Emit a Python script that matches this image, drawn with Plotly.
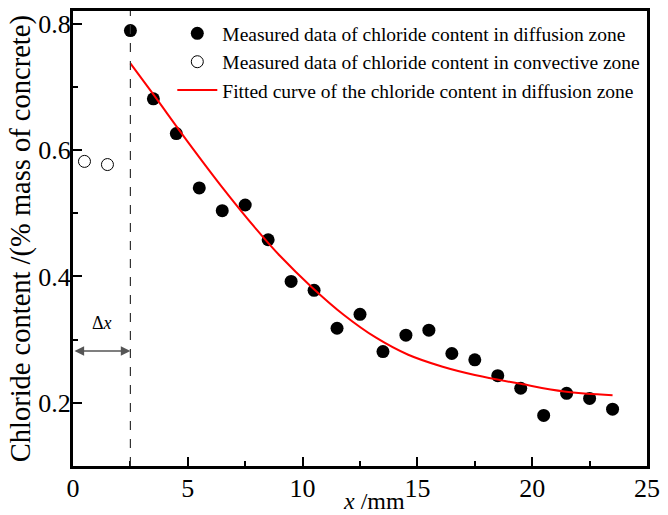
import plotly.graph_objects as go

# Measured chloride content in the diffusion zone
x_diff = [2.5, 3.5, 4.5, 5.5, 6.5, 7.5, 8.5, 9.5, 10.5, 11.5, 12.5, 13.5,
          14.5, 15.5, 16.5, 17.5, 18.5, 19.5, 20.5, 21.5, 22.5, 23.5]
c_diff = [0.789, 0.681, 0.626, 0.540, 0.504, 0.513, 0.458, 0.392, 0.378, 0.318,
          0.340, 0.281, 0.307, 0.315, 0.278, 0.268, 0.243, 0.223, 0.180, 0.215,
          0.207, 0.190]

# Measured chloride content in the convective zone
x_conv = [0.5, 1.5]
c_conv = [0.582, 0.577]

# Fitted curve in the diffusion zone
x_fit = [2.5, 3.5, 5.0, 6.5, 8.0, 9.0, 10.4, 11.8, 13.2, 14.6, 16.1, 17.5,
         19.5, 21.4, 23.5]
c_fit = [0.737, 0.688, 0.613, 0.541, 0.474, 0.433, 0.383, 0.339, 0.303, 0.276,
         0.257, 0.244, 0.230, 0.218, 0.212]

# Depth of the convective zone
delta_x = 2.5
arrow_y = 0.282

x_ticks = [0, 5, 10, 15, 20, 25]
y_ticks = [0.2, 0.4, 0.6, 0.8]

FONT = "Liberation Serif, Times New Roman, serif"

fig = go.Figure()
fig.add_trace(go.Scatter(
    x=x_diff, y=c_diff, mode="markers",
    name="Measured data of chloride content in diffusion zone",
    marker=dict(symbol="circle", size=13, color="black"),
))
fig.add_trace(go.Scatter(
    x=x_conv, y=c_conv, mode="markers",
    name="Measured data of chloride content in convective zone",
    marker=dict(symbol="circle-open", size=12, color="black", line=dict(width=1)),
))
fig.add_trace(go.Scatter(
    x=x_fit, y=c_fit, mode="lines",
    name="Fitted curve of the chloride content in diffusion zone",
    line=dict(color="red", width=2, shape="spline", smoothing=1.0),
))

# Boundary between convective and diffusion zones
fig.add_shape(type="line", xref="x", yref="paper", x0=delta_x, x1=delta_x,
              y0=0, y1=1, line=dict(color="#333333", width=1.2, dash="dash"))

# Double-headed arrow marking the convective zone depth
fig.add_annotation(x=delta_x, y=arrow_y, ax=0, ay=arrow_y, xref="x", yref="y",
                   axref="x", ayref="y", text="", showarrow=True,
                   arrowhead=2, startarrowhead=2, arrowside="end+start",
                   arrowsize=1.2, arrowwidth=1.6, arrowcolor="#555555")
fig.add_annotation(x=delta_x / 2, y=arrow_y + 0.044, xref="x", yref="y",
                   text="Δ<i>x</i>", showarrow=False,
                   font=dict(family=FONT, size=18, color="black"))

# Axis titles
fig.add_annotation(x=0.525, y=-0.076, xref="paper", yref="paper",
                   text="<i>x</i> /mm", showarrow=False, yanchor="middle",
                   font=dict(family=FONT, size=24, color="black"))
fig.add_annotation(x=-0.091, y=0.5, xref="paper", yref="paper",
                   text="Chloride content /(% mass of concrete)", textangle=-90,
                   showarrow=False, xanchor="center", yanchor="middle",
                   font=dict(family=FONT, size=28.5, color="black"))

fig.update_xaxes(
    range=[0, 25], tickvals=x_ticks, ticktext=[str(v) for v in x_ticks],
    ticks="inside", ticklen=9, tickwidth=2, tickcolor="black",
    minor=dict(dtick=2.5, tick0=0, ticks="inside", ticklen=5, tickwidth=2,
               tickcolor="black"),
    showline=True, linewidth=3, linecolor="black", mirror=True,
    showgrid=False, zeroline=False, ticklabelstandoff=-3,
    tickfont=dict(family=FONT, size=26, color="black"),
)
fig.update_yaxes(
    range=[0.1, 0.82], tickvals=y_ticks, ticktext=[f"{v:.1f}" for v in y_ticks],
    ticks="inside", ticklen=9, tickwidth=2, tickcolor="black",
    minor=dict(dtick=0.1, tick0=0.1, ticks="inside", ticklen=5, tickwidth=2,
               tickcolor="black"),
    showline=True, linewidth=3, linecolor="black", mirror=True,
    showgrid=False, zeroline=False, ticklabelstandoff=-6,
    tickfont=dict(family=FONT, size=26, color="black"),
)

fig.update_layout(
    width=668, height=515,
    margin=dict(l=73, r=13, t=8, b=49),
    paper_bgcolor="white", plot_bgcolor="white",
    showlegend=True,
    legend=dict(x=0.173, y=0.993, xanchor="left", yanchor="top",
                bgcolor="rgba(0,0,0,0)", borderwidth=0, tracegroupgap=0,
                itemwidth=40,
                font=dict(family=FONT, size=19.5, color="black")),
)

fig.write_html("out.html")
